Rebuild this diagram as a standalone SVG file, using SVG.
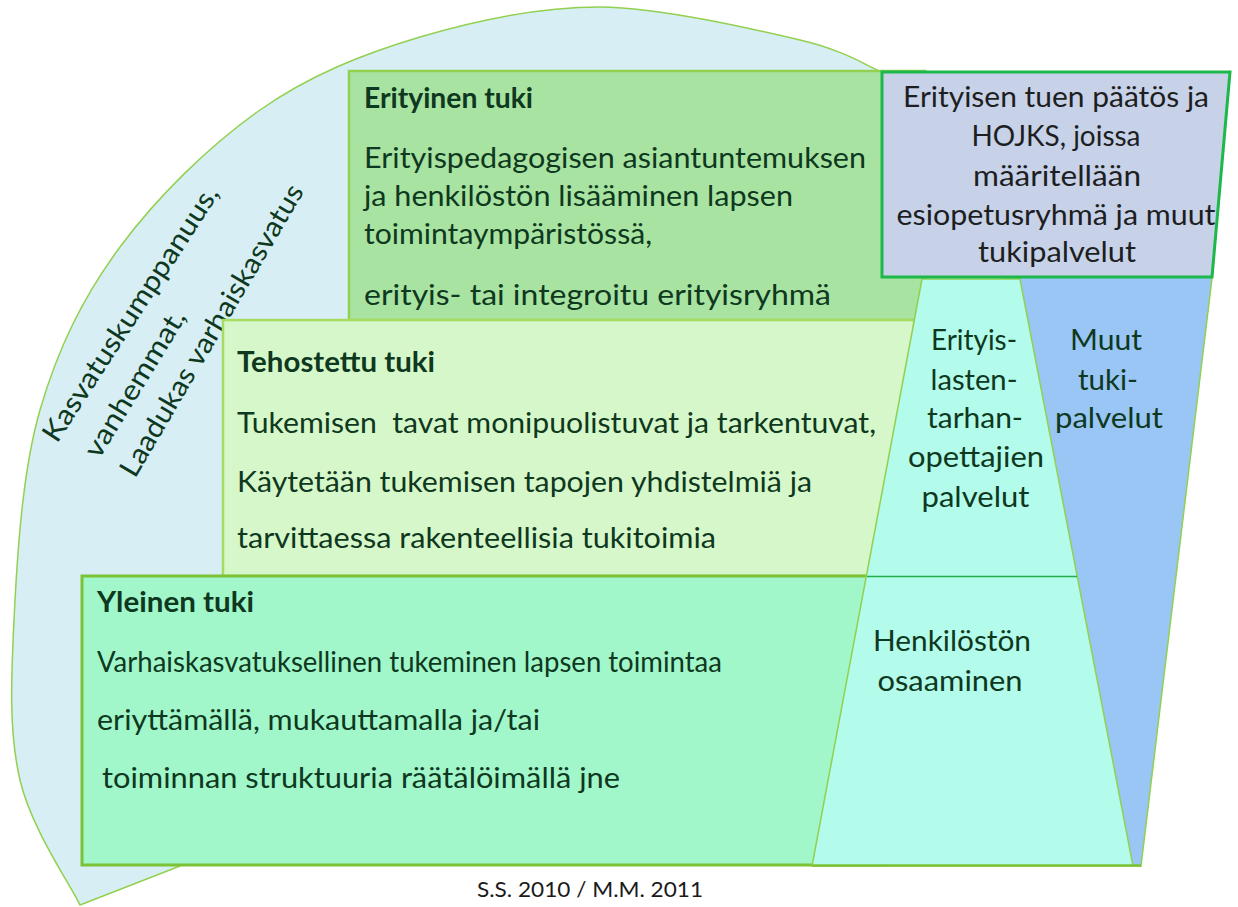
<svg xmlns="http://www.w3.org/2000/svg" width="1238" height="907" viewBox="0 0 1238 907">
<style>
text{font-family:Lato,"Open Sans","Liberation Sans",sans-serif;fill:#0e3820;font-size:28px}
.b{font-weight:bold}
.c{text-anchor:middle}
.rot{font-size:28px}
.dk{fill:#1c1e22}
.foot{font-size:22px;fill:#1a1a1a}
</style>
<rect width="1238" height="907" fill="#ffffff"/>
<g id="sector">
<path d="M80,905 C70,884 31,828 20,780 C9,733 11,682 14,620 C17,558 22,472 40,410 C58,348 83,297 120,247 C157,197 210,145 260,110 C310,75 363,54 420,37 C477,20 537,7 600,7 C663,8 753,29 800,40 C847,51 868,67 882,72 L882,600 L173,868 Z" fill="#d7eff4"/>
<path d="M180,866 L80,905 C70,884 31,828 20,780 C9,733 11,682 14,620 C17,558 22,472 40,410 C58,348 83,297 120,247 C157,197 210,145 260,110 C310,75 363,54 420,37 C477,20 537,7 600,7 C663,8 753,29 800,40 C847,51 868,67 882,72" fill="none" stroke="#92d050" stroke-width="1.5"/>
<text class="rot" transform="translate(57,444) rotate(-57)" textLength="299" lengthAdjust="spacingAndGlyphs">Kasvatuskumppanuus,</text>
<text class="rot" transform="translate(99,460) rotate(-58.5)" textLength="168" lengthAdjust="spacingAndGlyphs">vanhemmat,</text>
<text class="rot" transform="translate(135,479) rotate(-59.5)" textLength="334" lengthAdjust="spacingAndGlyphs">Laadukas varhaiskasvatus</text>
</g>
<g id="erityinen">
<rect x="349" y="71" width="576" height="249" fill="#a8e3a1" stroke="#92d050" stroke-width="2.5"/>
<text class="b" x="364" y="108" textLength="169" lengthAdjust="spacingAndGlyphs">Erityinen tuki</text>
<text x="364" y="168" textLength="502" lengthAdjust="spacingAndGlyphs">Erityispedagogisen asiantuntemuksen</text>
<text x="364" y="206" textLength="429" lengthAdjust="spacingAndGlyphs">ja henkilöstön lisääminen lapsen</text>
<text x="364" y="244" textLength="288" lengthAdjust="spacingAndGlyphs">toimintaympäristössä,</text>
<text x="364" y="305" textLength="467" lengthAdjust="spacingAndGlyphs">erityis- tai integroitu erityisryhmä</text>
</g>
<g id="tehostettu">
<rect x="223" y="320" width="691" height="256" fill="#d6f7c9" stroke="#a6dc62" stroke-width="2.5"/>
<text class="b" x="237" y="372" textLength="198" lengthAdjust="spacingAndGlyphs">Tehostettu tuki</text>
<text x="237" y="433" xml:space="preserve" textLength="639" lengthAdjust="spacingAndGlyphs">Tukemisen  tavat monipuolistuvat ja tarkentuvat,</text>
<text x="237" y="492" textLength="575" lengthAdjust="spacingAndGlyphs">Käytetään tukemisen tapojen yhdistelmiä ja</text>
<text x="237" y="548" textLength="479" lengthAdjust="spacingAndGlyphs">tarvittaessa rakenteellisia tukitoimia</text>
</g>
<g id="yleinen">
<rect x="82" y="576" width="800" height="289" fill="#a1f6ca" stroke="#7cc236" stroke-width="3"/>
<text class="b" x="97" y="612" textLength="157" lengthAdjust="spacingAndGlyphs">Yleinen tuki</text>
<text x="97" y="672" textLength="625" lengthAdjust="spacingAndGlyphs">Varhaiskasvatuksellinen tukeminen lapsen toimintaa</text>
<text x="97" y="730" textLength="443" lengthAdjust="spacingAndGlyphs">eriyttämällä, mukauttamalla ja/tai</text>
<text x="102" y="788" textLength="518" lengthAdjust="spacingAndGlyphs">toiminnan struktuuria räätälöimällä jne</text>
</g>
<g id="muut">
<polygon points="1005,270 1213,270 1141,866 1131,866" fill="#99c6f4" stroke="#92d050" stroke-width="1.5"/>
<text class="c" x="1106" y="350" textLength="72" lengthAdjust="spacingAndGlyphs">Muut</text>
<text class="c" x="1108" y="390" textLength="60" lengthAdjust="spacingAndGlyphs">tuki-</text>
<text class="c" x="1109" y="428" textLength="108" lengthAdjust="spacingAndGlyphs">palvelut</text>
</g>
<g id="henkilosto">
<polygon points="922,279 1020,279 1133,866 812,866" fill="#b3fbea" stroke="#92d050" stroke-width="1.5"/>
<text class="c" x="974" y="350" textLength="86" lengthAdjust="spacingAndGlyphs">Erityis-</text>
<text class="c" x="974" y="390" textLength="87" lengthAdjust="spacingAndGlyphs">lasten-</text>
<text class="c" x="975" y="428" textLength="96" lengthAdjust="spacingAndGlyphs">tarhan-</text>
<text class="c" x="976" y="467" textLength="136" lengthAdjust="spacingAndGlyphs">opettajien</text>
<text class="c" x="975.5" y="507" textLength="108" lengthAdjust="spacingAndGlyphs">palvelut</text>
<text class="c" x="952" y="651" textLength="158" lengthAdjust="spacingAndGlyphs">Henkilöstön</text>
<text class="c" x="950" y="691" textLength="145" lengthAdjust="spacingAndGlyphs">osaaminen</text>
</g>
<g id="connectors">
<line x1="867" y1="576.5" x2="1077" y2="576.5" stroke="#22b04a" stroke-width="1.5"/>
<line x1="812" y1="865.5" x2="1141" y2="865.5" stroke="#7cc236" stroke-width="2.5"/>
</g>
<g id="hojks">
<polygon points="882,72 1230,72 1212,277 882,277" fill="#c7d1e7" stroke="#1db84a" stroke-width="3"/>
<text class="c dk" x="1056" y="107" textLength="306" lengthAdjust="spacingAndGlyphs">Erityisen tuen päätös ja</text>
<text class="c dk" x="1056" y="146" textLength="169" lengthAdjust="spacingAndGlyphs">HOJKS, joissa</text>
<text class="c dk" x="1057" y="186" textLength="168" lengthAdjust="spacingAndGlyphs">määritellään</text>
<text class="c dk" x="1056" y="225" textLength="319" lengthAdjust="spacingAndGlyphs">esiopetusryhmä ja muut</text>
<text class="c dk" x="1057" y="262" textLength="158" lengthAdjust="spacingAndGlyphs">tukipalvelut</text>
</g>
<g id="footer">
<text class="foot c" x="590" y="897" textLength="226" lengthAdjust="spacingAndGlyphs">S.S. 2010 / M.M. 2011</text>
</g>
</svg>
